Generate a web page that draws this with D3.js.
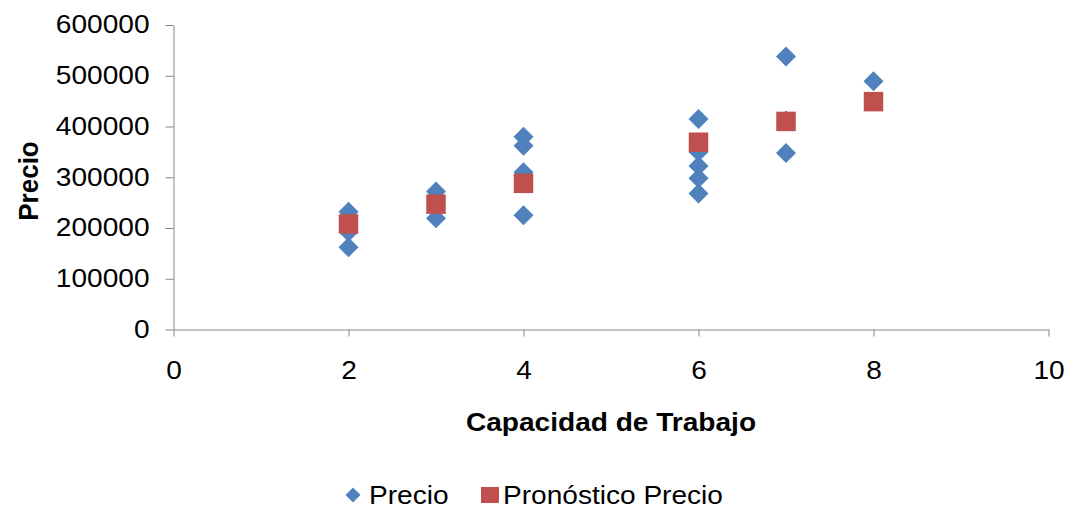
<!DOCTYPE html>
<html>
<head>
<meta charset="utf-8">
<script src="https://cdn.jsdelivr.net/npm/d3@7"></script>
<style>
  html, body { margin: 0; padding: 0; background: #ffffff; }
  svg { display: block; font-family: "Liberation Sans", Arial, sans-serif; }
</style>
</head>
<body>
<svg id="chart" width="1073" height="515"></svg>
<script>
// Observed prices by work capacity
const precioX = [2, 2, 2, 2, 3, 3, 3, 4, 4, 4, 4, 4, 6, 6, 6, 6, 6, 6, 7, 7, 7, 8];
const precioY = [232000, 215000, 192000, 162000, 272000, 250000, 219000,
                 380000, 362000, 310000, 295000, 225000,
                 415000, 365000, 350000, 322000, 298000, 268000,
                 538000, 412000, 348000, 489000];

// Forecast price from the fitted line
const pronosticoX = [2, 3, 4, 6, 7, 8];
const pronosticoY = [208000, 247000, 288000, 369000, 410000, 449000];

const xTicks = [0, 2, 4, 6, 8, 10];
const yTicks = [0, 100000, 200000, 300000, 400000, 500000, 600000];

const seriesNames = ["Precio", "Pronóstico Precio"];
const xTitle = "Capacidad de Trabajo";
const yTitle = "Precio";

const blue = "#4f81bd";
const red = "#c0504d";
const axisColor = "#868686";
const stretch = 1.08;

const svg = d3.select("#chart");

const x = d3.scaleLinear().domain([0, 10]).range([173.5, 1048.5]);
const y = d3.scaleLinear().domain([0, 600000]).range([329.5, 25]);

// Y axis
const yAxis = svg.append("g")
  .attr("transform", `translate(${x(0)},0)`)
  .call(d3.axisLeft(y).tickValues(yTicks).tickSize(8).tickSizeOuter(0).tickFormat(d => String(d)));
yAxis.select(".domain").attr("stroke", axisColor);
yAxis.selectAll(".tick line").attr("stroke", axisColor);
yAxis.selectAll(".tick text")
  .attr("font-size", 26)
  .attr("fill", "#000")
  .attr("x", -24 / stretch)
  .attr("dy", "0.3em")
  .attr("transform", `scale(${stretch},1)`);

// X axis
const xAxis = svg.append("g")
  .attr("transform", `translate(0,${y(0)})`)
  .call(d3.axisBottom(x).tickValues(xTicks).tickSize(7).tickSizeOuter(0).tickFormat(d => String(d)));
xAxis.select(".domain").attr("stroke", axisColor);
xAxis.selectAll(".tick line").attr("stroke", axisColor);
xAxis.selectAll(".tick text")
  .attr("font-size", 26)
  .attr("fill", "#000")
  .attr("y", 50)
  .attr("dy", 0)
  .attr("transform", `scale(${stretch},1)`);

// Axis titles
svg.append("text")
  .attr("transform", `translate(611,431) scale(${stretch},1)`)
  .attr("text-anchor", "middle")
  .attr("font-size", 26)
  .attr("font-weight", "bold")
  .text(xTitle);

svg.append("text")
  .attr("transform", `translate(38,181) scale(${stretch},1) rotate(-90)`)
  .attr("text-anchor", "middle")
  .attr("font-size", 26)
  .attr("font-weight", "bold")
  .text(yTitle);

// Markers
const diamond = d3.symbol().type(d3.symbolSquare).size(200);
const square = d3.symbol().type(d3.symbolSquare).size(380);

svg.append("g").selectAll("path")
  .data(precioX.map((v, i) => [v, precioY[i]]))
  .join("path")
  .attr("d", diamond)
  .attr("fill", blue)
  .attr("transform", d => `translate(${x(d[0])},${y(d[1])}) rotate(45)`);

svg.append("g").selectAll("path")
  .data(pronosticoX.map((v, i) => [v, pronosticoY[i]]))
  .join("path")
  .attr("d", square)
  .attr("fill", red)
  .attr("transform", d => `translate(${x(d[0])},${y(d[1])})`);

// Legend
const legend = svg.append("g");
legend.append("path")
  .attr("d", d3.symbol().type(d3.symbolSquare).size(112))
  .attr("fill", blue)
  .attr("transform", "translate(353,495) rotate(45)");
legend.append("text")
  .attr("transform", `translate(369,504) scale(${stretch},1)`)
  .attr("font-size", 26)
  .text(seriesNames[0]);
legend.append("rect")
  .attr("x", 481).attr("y", 487).attr("width", 18).attr("height", 16)
  .attr("fill", red);
legend.append("text")
  .attr("transform", `translate(503,504) scale(${stretch},1)`)
  .attr("font-size", 26)
  .text(seriesNames[1]);
</script>
</body>
</html>
